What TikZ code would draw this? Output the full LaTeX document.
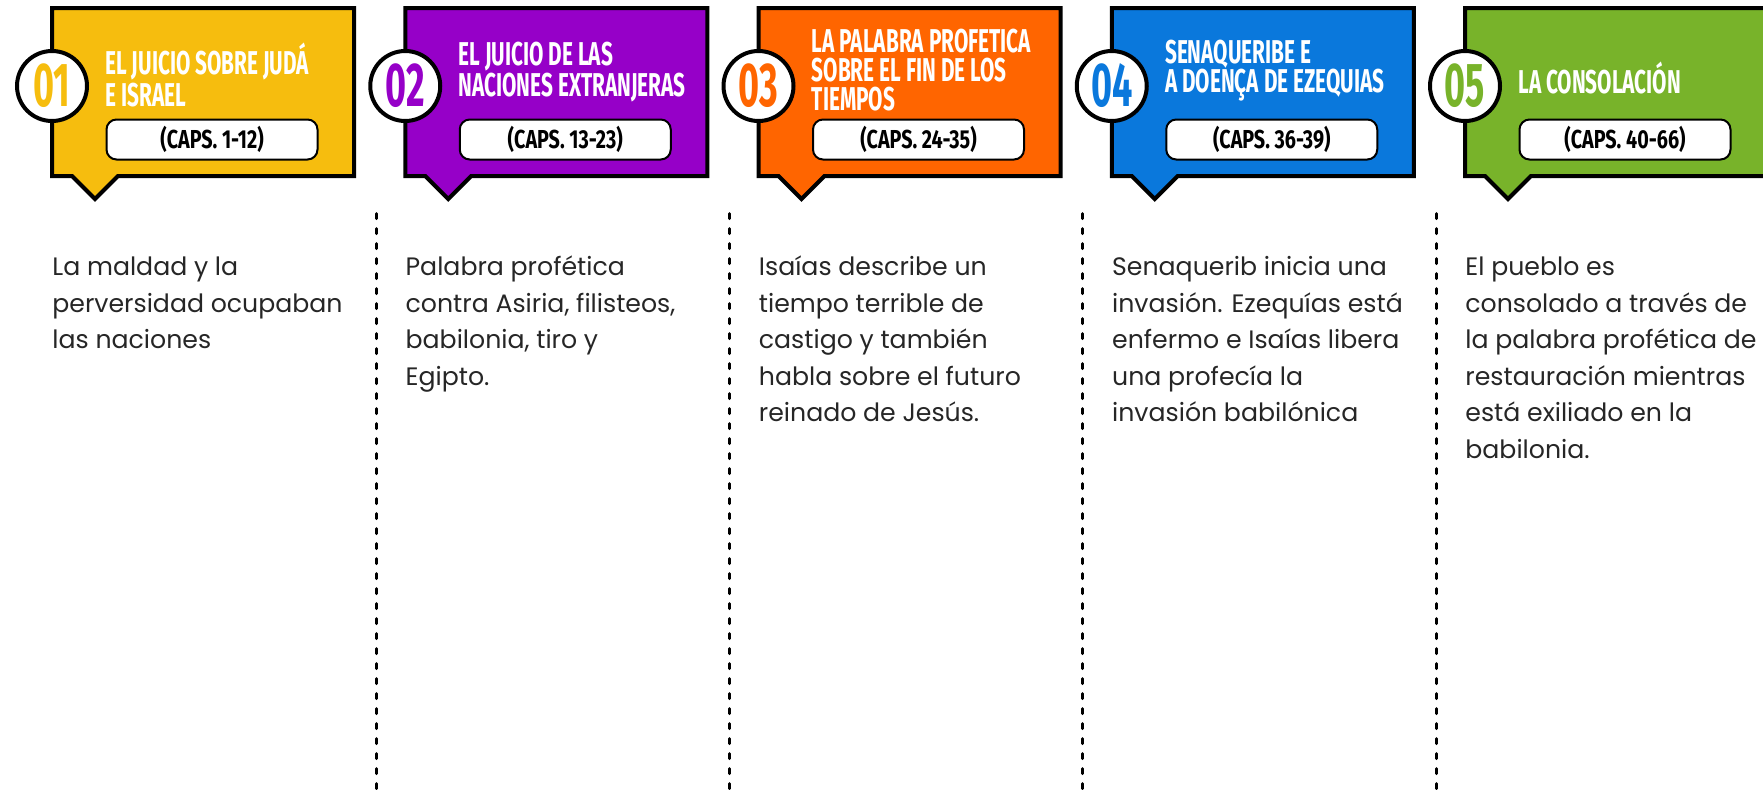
\documentclass[tikz,border=0pt]{standalone}
\usepackage{fontspec}
\setmainfont{Poppins}
\newfontfamily\headfont[FakeStretch=0.63]{Fira Sans}
\newfontfamily\capsfont[FakeStretch=0.76]{Fira Sans}
\newfontfamily\numfont[FakeStretch=0.58]{Fira Sans}
\definecolor{isaYellow}{HTML}{F6BD0E}
\definecolor{isaPurple}{HTML}{9600C8}
\definecolor{isaOrange}{HTML}{FF6500}
\definecolor{isaBlue}{HTML}{0A78DC}
\definecolor{isaGreen}{HTML}{78B32A}
\definecolor{descGray}{HTML}{262626}

\begin{document}
\begin{tikzpicture}[
    x=0.5pt, y=-0.5pt,
    callout/.style={draw=black, line width=2pt, miter limit=10},
    numcirc/.style={circle, draw=black, line width=2pt, fill=white, minimum size=35pt, inner sep=0pt, font=\numfont\bfseries\fontsize{31}{31}\selectfont},
    titletext/.style={anchor=west, align=left, inner sep=0pt, text=white, font=\headfont\bfseries\fontsize{16.5}{14.5}\selectfont},
    capsbox/.style={rectangle, rounded corners=5pt, draw=black, line width=1pt, fill=white, minimum width=105.5pt, minimum height=20pt, inner sep=0pt, font=\capsfont\bfseries\fontsize{13}{13}\selectfont},
    desctext/.style={anchor=north west, align=left, inner sep=0pt, text=descGray, font=\fontsize{12.6}{18.25}\selectfont},
    divider/.style={line width=1.5pt, line cap=round, dash pattern=on 2.5pt off 5pt}
]
    \useasboundingbox (0,0) rectangle (1763,789);

    % Five callouts, one per section of the book
    \foreach \i/\col/\ty/\ttl/\caps/\desc in {
        1/isaYellow/75/{EL JUICIO SOBRE JUDÁ\\E ISRAEL}/{(CAPS. 1-12)}/{La maldad y la\\perversidad ocupaban\\las naciones},
        2/isaPurple/72.5/{EL JUICIO DE LAS\\NACIONES EXTRANJERAS}/{(CAPS. 13-23)}/{Palabra profética\\contra Asiria, filisteos,\\babilonia, tiro y\\Egipto.},
        3/isaOrange/70/{LA PALABRA PROFETICA\\SOBRE EL FIN DE LOS\\TIEMPOS}/{(CAPS. 24-35)}/{Isaías describe un\\tiempo terrible de\\castigo y también\\habla sobre el futuro\\reinado de Jesús.},
        4/isaBlue/71/{SENAQUERIBE E\\A DOENÇA DE EZEQUIAS}/{(CAPS. 36-39)}/{Senaquerib inicia una\\invasión. Ezequías está\\enfermo e Isaías libera\\una profecía la\\invasión babilónica},
        5/isaGreen/77.5/{LA CONSOLACIÓN}/{(CAPS. 40-66)}/{El pueblo es\\consolado a través de\\la palabra profética de\\restauración mientras\\está exiliado en la\\babilonia.}} {
        \pgfmathsetmacro\bx{50+353.25*(\i-1)}
        \draw[callout, fill=\col] (\bx+2,8) -- (\bx+304,8) -- (\bx+304,176) -- (\bx+68,176)
            -- (\bx+45,199) -- (\bx+22,176) -- (\bx+2,176) -- cycle;
        \node[numcirc, text=\col] (num\i) at (\bx+2,86) {0\i};
        \node[titletext] (title\i) at (\bx+55,\ty) {\ttl};
        \node[capsbox] (caps\i) at (\bx+162,139.5) {\caps};
        \node[desctext] (desc\i) at (\bx+2,253.5) {\rule{0pt}{11pt}\desc};
    }

    % Dotted separators between the columns
    \foreach \i in {2,...,5} {
        \pgfmathsetmacro\lx{50+353.25*(\i-1)-27}
        \draw[divider] (\lx,213.5) -- (\lx,789);
    }
\end{tikzpicture}
\end{document}
